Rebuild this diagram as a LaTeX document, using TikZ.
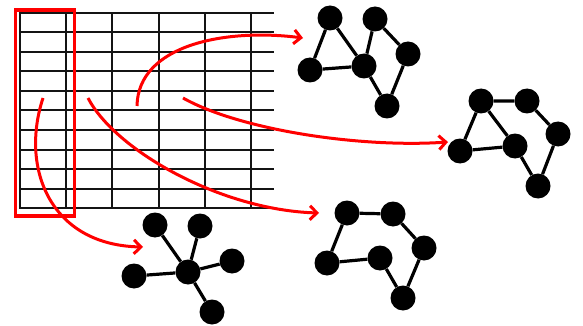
\documentclass[tikz,border=0pt]{standalone}
\usepackage{tikz}
\usetikzlibrary{arrows.meta}
\usepackage{xcolor}
\definecolor{flowred}{RGB}{255,0,0}
\definecolor{gridblack}{RGB}{20,20,20}

\begin{document}
\begin{tikzpicture}[x=1pt,y=-1pt,
    vtx/.style={circle,fill=black,minimum size=25pt,inner sep=0pt},
    link/.style={line width=3.2pt},
    flow/.style={flowred,line width=3pt,-{Straight Barb[length=7pt,width=14pt]}}]
  \useasboundingbox (0,0) rectangle (583,326);
  % table
  \foreach \r in {0,...,10}
    \draw[gridblack,line width=2pt,line cap=rect] (20,12.7+19.56*\r) -- (273,12.7+19.56*\r);
  \foreach \c in {0,...,5}
    \draw[gridblack,line width=2pt,line cap=rect] (20+46.2*\c,12.7) -- (20+46.2*\c,208.3);
  % selected column
  \draw[flowred,line width=3.5pt] (15.5,10) rectangle (74.3,216);
  % graph top
  \node[vtx] (ta) at (330,18) {};
  \node[vtx] (tb) at (375,19) {};
  \node[vtx] (tc) at (310,70) {};
  \node[vtx] (td) at (364,66) {};
  \node[vtx] (te) at (408,54) {};
  \node[vtx] (tf) at (387,106) {};
  \draw[link] (ta) -- (tc) -- (td) -- (ta);
  \draw[link] (td) -- (tb) -- (te) -- (tf) -- (td);
  % graph right
  \node[vtx] (ra) at (481,101) {};
  \node[vtx] (rb) at (527,101) {};
  \node[vtx] (rc) at (460,151) {};
  \node[vtx] (rd) at (515,146) {};
  \node[vtx] (re) at (558,134) {};
  \node[vtx] (rf) at (538,186) {};
  \draw[link] (ra) -- (rc) -- (rd) -- (ra) -- (rb) -- (re) -- (rf) -- (rd);
  % star
  \node[vtx] (sc) at (188,272) {};
  \node[vtx] (s1) at (155,225) {};
  \node[vtx] (s2) at (200,226) {};
  \node[vtx] (s3) at (232,261) {};
  \node[vtx] (s4) at (134,276) {};
  \node[vtx] (s5) at (212,312) {};
  \foreach \n in {s1,s2,s3,s4,s5}
    \draw[link] (sc) -- (\n);
  % ring
  \node[vtx] (ba) at (347,213) {};
  \node[vtx] (bb) at (393,214) {};
  \node[vtx] (bc) at (424,248) {};
  \node[vtx] (bd) at (380,258) {};
  \node[vtx] (be) at (327,263) {};
  \node[vtx] (bf) at (403,298) {};
  \draw[link] (ba) -- (bb) -- (bc) -- (bf) -- (bd) -- (be) -- (ba);
  % arrows out of the table
  \coordinate (from1) at (43,98);
  \coordinate (from2) at (88,98);
  \coordinate (from3) at (137,106);
  \coordinate (from4) at (183,98);
  \coordinate (to1) at (143,247);
  \coordinate (to2) at (319,213);
  \coordinate (to3) at (303,38);
  \coordinate (to4) at (448,142);
  \draw[flow] (from1) .. controls (20,168) and (50,245) .. (to1);
  \draw[flow] (from2) .. controls (115,150) and (220,210) .. (to2);
  \draw[flow] (from3) .. controls (138,45) and (225,28) .. (to3);
  \draw[flow] (from4) .. controls (240,130) and (360,148) .. (to4);
\end{tikzpicture}
\end{document}
